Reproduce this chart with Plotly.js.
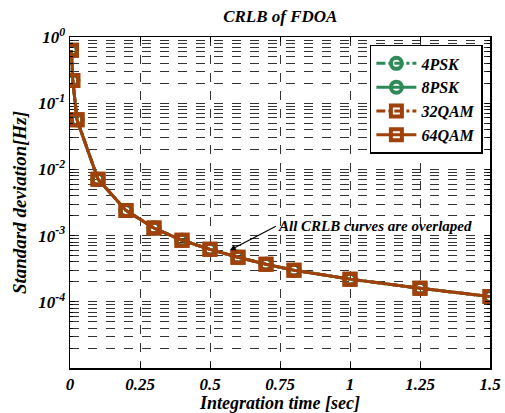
<!DOCTYPE html>
<html>
<head>
<meta charset="utf-8">
<script src="https://cdn.plot.ly/plotly-3.0.1.min.js"></script>
<style>html,body{margin:0;padding:0;background:#fff;}#chart{width:505px;height:413px;}</style>
</head>
<body>
<div id="chart"></div>
<script>
// Data
var integrationTime = [0.005, 0.01, 0.025, 0.1, 0.2, 0.3, 0.4, 0.5, 0.6, 0.7, 0.8, 1.0, 1.25, 1.5];
var crlb4PSK  = [0.63, 0.22, 0.056, 0.0071, 0.0024, 0.0013, 0.00085, 0.00062, 0.00047, 0.00037, 0.00030, 0.00022, 0.00016, 0.00012];
var crlb8PSK  = [0.63, 0.22, 0.056, 0.0071, 0.0024, 0.0013, 0.00085, 0.00062, 0.00047, 0.00037, 0.00030, 0.00022, 0.00016, 0.00012];
var crlb32QAM = [0.63, 0.22, 0.056, 0.0071, 0.0024, 0.0013, 0.00085, 0.00062, 0.00047, 0.00037, 0.00030, 0.00022, 0.00016, 0.00012];
var crlb64QAM = [0.63, 0.22, 0.056, 0.0071, 0.0024, 0.0013, 0.00085, 0.00062, 0.00047, 0.00037, 0.00030, 0.00022, 0.00016, 0.00012];
var seriesNames = ['4PSK', '8PSK', '32QAM', '64QAM'];
var xTickVals = [0, 0.25, 0.5, 0.75, 1, 1.25, 1.5];
var xTickText = ['0', '0.25', '0.5', '0.75', '1', '1.25', '1.5'];
var yTickVals = [1e-4, 1e-3, 1e-2, 1e-1, 1];
var yTickText = ['10<sup>-4</sup>', '10<sup>-3</sup>', '10<sup>-2</sup>', '10<sup>-1</sup>', '10<sup>0</sup>'];

var green = '#2e8b57';
var brown = '#a0400a';
var fontFam = 'Liberation Serif';

function trace(y, name, color, dash, symbol) {
  return {
    x: integrationTime, y: y, name: name, type: 'scatter', mode: 'lines+markers',
    line: {color: color, width: 3, dash: dash},
    marker: {symbol: symbol, size: 11, color: color, line: {color: color, width: 4}}
  };
}

var data = [
  trace(crlb4PSK, seriesNames[0], green, 'dashdot', 'circle-open'),
  trace(crlb8PSK, seriesNames[1], green, 'solid', 'circle-open'),
  trace(crlb32QAM, seriesNames[2], brown, 'dashdot', 'square-open'),
  trace(crlb64QAM, seriesNames[3], brown, 'solid', 'square-open')
];

var boldItalic = function (size) {
  return {family: fontFam, size: size, color: '#000', weight: 'bold', style: 'italic'};
};

var layout = {
  width: 505, height: 413,
  margin: {l: 70, r: 15, t: 37, b: 45},
  paper_bgcolor: '#fff', plot_bgcolor: '#fff',
  font: boldItalic(16),
  title: {text: 'CRLB of FDOA', x: 0.555, xanchor: 'center', y: 0.96, yanchor: 'middle',
          font: boldItalic(17)},
  showlegend: true,
  legend: {x: 0.714, y: 0.976, xanchor: 'left', yanchor: 'top',
           bgcolor: '#fff', bordercolor: '#000', borderwidth: 1.5,
           font: boldItalic(16),
           tracegroupgap: 0, itemwidth: 40},
  xaxis: {
    range: [0, 1.5], tickvals: xTickVals, ticktext: xTickText,
    showline: true, linecolor: '#000', linewidth: 1.5, mirror: 'ticks',
    ticks: 'inside', ticklen: 5, tickcolor: '#000',
    showgrid: true, gridcolor: '#333', griddash: 'dash', gridwidth: 1,
    zeroline: false,
    tickfont: boldItalic(17),
    title: {text: 'Integration time [sec]', standoff: 4, font: boldItalic(18)}
  },
  yaxis: {
    type: 'log', range: [-5, 0], tickvals: yTickVals, ticktext: yTickText,
    showline: true, linecolor: '#000', linewidth: 1.5, mirror: 'ticks',
    ticks: 'inside', ticklen: 5, tickcolor: '#000',
    showgrid: true, gridcolor: '#333', griddash: 'dash', gridwidth: 1,
    zeroline: false,
    minor: {dtick: 'D1', ticks: 'inside', ticklen: 3, tickcolor: '#000', showgrid: true,
            gridcolor: '#333', griddash: 'dash', gridwidth: 1},
    tickfont: boldItalic(17),
    title: {text: 'Standard deviation[Hz]', standoff: 6, font: boldItalic(19)}
  },
  annotations: [{
    x: 0.571, y: Math.log10(6.0e-4), xref: 'x', yref: 'y',
    text: 'All CRLB curves are overlaped',
    showarrow: true, arrowhead: 2, arrowsize: 1, arrowwidth: 1.2, arrowcolor: '#000',
    ax: 46, ay: -24, xanchor: 'left', yanchor: 'middle',
    font: boldItalic(15), bgcolor: 'rgba(255,255,255,0)'
  }]
};

Plotly.newPlot('chart', data, layout, {displayModeBar: false, staticPlot: true});
</script>
</body>
</html>
